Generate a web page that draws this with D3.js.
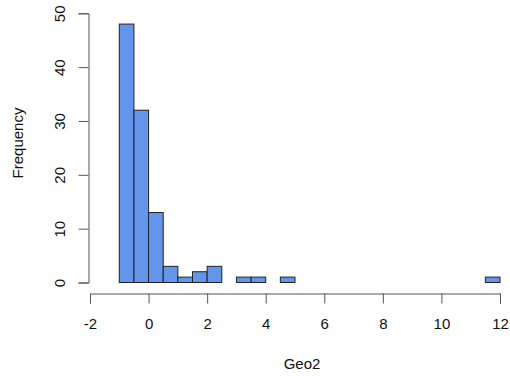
<!DOCTYPE html>
<html>
<head>
<meta charset="utf-8">
<script src="https://cdn.jsdelivr.net/npm/d3@7"></script>
<style>
  body { margin: 0; background: #fff; }
  svg { display: block; font-family: "Liberation Sans", Arial, sans-serif; }
</style>
</head>
<body>
<svg id="chart" width="510" height="376"></svg>
<script>
// Histogram of Geo2, bins of width 0.5 from -1 to 12
const binStarts = d3.range(-1, 12, 0.5);
const counts = [48, 32, 13, 3, 1, 2, 3, 0, 1, 1, 0, 1,
                0, 0, 0, 0, 0, 0, 0, 0, 0, 0, 0, 0, 0, 1];
const binWidth = 0.5;
const xTicks = [-2, 0, 2, 4, 6, 8, 10, 12];
const yTicks = [0, 10, 20, 30, 40, 50];

const svg = d3.select("#chart");
const x = d3.scaleLinear().domain([-2, 12]).range([90, 500]);
const y = d3.scaleLinear().domain([0, 50]).range([282.5, 13.3]);

// bars
svg.append("g")
  .selectAll("rect")
  .data(binStarts.map((s, i) => ({ s, c: counts[i] })))
  .join("rect")
  .attr("x", d => x(d.s))
  .attr("y", d => y(d.c))
  .attr("width", d => x(d.s + binWidth) - x(d.s))
  .attr("height", d => y(0) - y(d.c))
  .attr("fill", "#6495ED")
  .attr("stroke", "#222")
  .attr("stroke-width", 1);

// x axis
const xAxis = svg.append("g")
  .attr("transform", "translate(0,293.5)")
  .call(d3.axisBottom(x).tickValues(xTicks).tickSize(10)
    .tickFormat(d => d < 0 ? "-" + Math.abs(d) : d));
// y axis
const yAxis = svg.append("g")
  .attr("transform", "translate(88.5,0)")
  .call(d3.axisLeft(y).tickValues(yTicks).tickSize(10));

[xAxis, yAxis].forEach(g => {
  g.select(".domain").attr("stroke", "#555");
  g.selectAll(".tick line").attr("stroke", "#555");
  g.selectAll("text").attr("fill", "#111").style("font-size", "15px")
    .style("font-family", "'Liberation Sans', Arial, sans-serif");
});

// x tick labels: baseline placed below the ticks
xAxis.selectAll(".tick text").attr("y", 35.5).attr("dy", 0);

// rotate y tick labels
yAxis.selectAll(".tick text")
  .attr("x", 0).attr("y", 0).attr("dy", 0)
  .attr("text-anchor", "middle")
  .attr("transform", "translate(-23.5,0) rotate(-90)");

// axis titles
svg.append("text")
  .attr("x", 302).attr("y", 369)
  .attr("text-anchor", "middle")
  .style("font-size", "15px").attr("fill", "#111")
  .text("Geo2");
svg.append("text")
  .attr("transform", "translate(23,143) rotate(-90)")
  .attr("text-anchor", "middle")
  .style("font-size", "15px").attr("fill", "#111")
  .text("Frequency");
</script>
</body>
</html>
